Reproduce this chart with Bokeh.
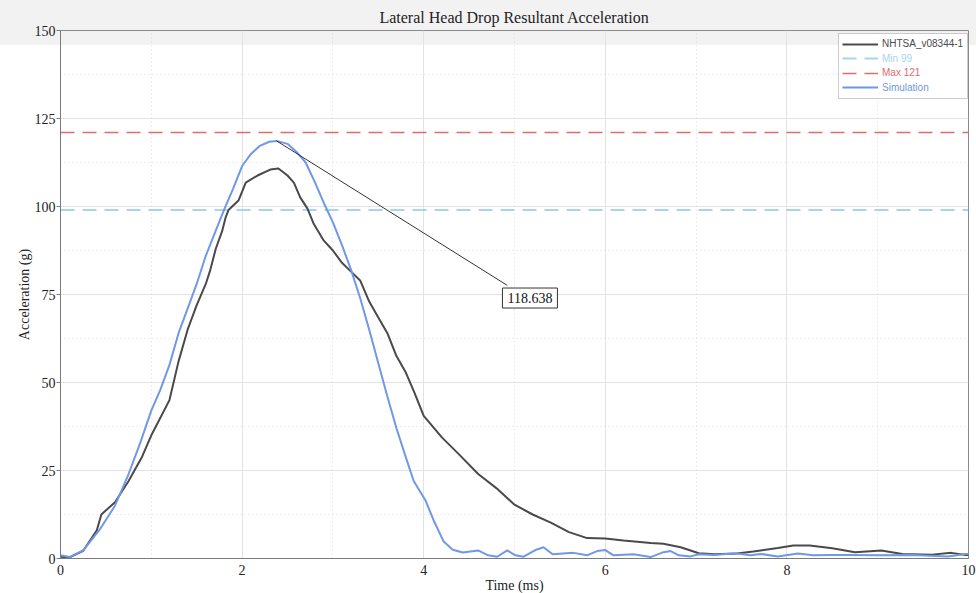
from bokeh.plotting import figure
from bokeh.models import (Legend, LegendItem, BoxAnnotation, Label, SingleIntervalTicker, Range1d)
from bokeh.embed import file_html
from bokeh.resources import INLINE

TITLE = "Lateral Head Drop Resultant Acceleration"
X_LABEL = "Time (ms)"
Y_LABEL = "Acceleration (g)"

# NHTSA test curve
t_nhtsa = [0, 0.1, 0.25, 0.4, 0.45, 0.6, 0.75, 0.9, 1.0, 1.1, 1.2, 1.3, 1.4, 1.5, 1.6, 1.65,
           1.71, 1.78, 1.82, 1.85, 1.96, 2.04, 2.17, 2.31, 2.4, 2.5, 2.57, 2.64, 2.72, 2.79,
           2.9, 3.0, 3.1, 3.2, 3.3, 3.4, 3.5, 3.6, 3.7, 3.8, 3.9, 4.0, 4.2, 4.4, 4.6, 4.8,
           5.0, 5.2, 5.4, 5.6, 5.8, 6.0, 6.2, 6.5, 6.64, 6.83, 7.03, 7.2, 7.45, 7.63, 7.9,
           8.07, 8.25, 8.5, 8.75, 9.04, 9.27, 9.6, 9.81, 9.97, 10.0]
a_nhtsa = [0.5, 0.3, 2.2, 8, 12.5, 16, 22, 29, 35, 40, 45, 56, 65, 72, 78, 82,
           88, 93, 97, 99, 101.7, 106.8, 108.8, 110.5, 110.8, 108.8, 106.8, 102.6, 99.4, 95,
           90.3, 87.5, 84, 81.5, 79, 73, 68.5, 64, 57.5, 53, 47, 40.5, 34.4, 29.3, 24, 20,
           15.3, 12.5, 10.2, 7.5, 5.8, 5.7, 5.1, 4.4, 4.2, 3.2, 1.5, 1.2, 1.4, 2.0, 3.0,
           3.7, 3.7, 2.9, 1.8, 2.3, 1.3, 1.1, 1.6, 1.0, 1.0]

# Simulation curve
t_sim = [0, 0.1, 0.25, 0.44, 0.6, 0.75, 0.88, 1.0, 1.1, 1.2, 1.3, 1.4, 1.5, 1.6, 1.7, 1.8,
         1.9, 2.0, 2.1, 2.2, 2.3, 2.38, 2.5, 2.6, 2.7, 2.8, 2.9, 3.0, 3.1, 3.2, 3.3, 3.4,
         3.5, 3.6, 3.7, 3.8, 3.89, 4.02, 4.11, 4.22, 4.32, 4.43, 4.6, 4.71, 4.81, 4.92,
         5.01, 5.1, 5.23, 5.32, 5.42, 5.65, 5.8, 5.91, 6.0, 6.09, 6.31, 6.5, 6.64, 6.72,
         6.81, 6.94, 7.03, 7.2, 7.43, 7.6, 7.71, 7.9, 8.12, 8.29, 8.5, 8.67, 9.0, 9.39,
         9.77, 9.97, 10.0]
a_sim = [0.9, 0.4, 2.3, 8.5, 15, 24, 33, 42, 48, 55, 64, 71, 78, 86, 92.5, 99,
         105, 111.5, 115, 117.3, 118.4, 118.638, 117.8, 115.5, 112.5, 107, 101, 95.5, 89, 82, 74, 65,
         55.5, 46, 37, 29, 22, 16.5, 10.8, 4.8, 2.5, 1.7, 2.3, 0.9, 0.5, 2.3,
         0.9, 0.5, 2.4, 3.2, 1.2, 1.6, 0.9, 2.1, 2.4, 0.9, 1.2, 0.4, 1.8, 2.1,
         0.9, 0.6, 1.2, 1.0, 1.5, 0.9, 1.3, 0.6, 1.4, 0.9, 1.0, 1.0, 0.9, 1.0,
         0.6, 1.3, 1.3]

MIN_VAL = 99
MAX_VAL = 121
X_RANGE = [0, 10]
PEAK_T, PEAK_V = 2.38, 118.638
CALLOUT_T, CALLOUT_V = 4.92, 77.6
LABEL_T, LABEL_V = 5.17, 74.0
PEAK_TEXT = "118.638"

SERIF = "Liberation Serif"
SANS = "Liberation Sans"

FRAME_H = 528
p = figure(frame_width=908, frame_height=FRAME_H, output_backend="svg", toolbar_location=None,
           x_range=Range1d(0, 10), y_range=Range1d(0, 150),
           min_border_left=60, min_border_right=8, min_border_top=30, min_border_bottom=35,
           title=TITLE)
p.border_fill_color = None
p.background_fill_color = None
p.styles = {"background": "linear-gradient(to bottom, #f2f2f2 0px, #f2f2f2 45px, #ffffff 45px, #ffffff 100%)"}
p.outline_line_color = "#8a8a8a"
p.outline_line_width = 1

p.title.align = "center"
p.title.text_font = SERIF
p.title.text_font_size = "16px"
p.title.text_font_style = "normal"
p.title.text_color = "#222222"
p.title.standoff = 10

p.xaxis.ticker = SingleIntervalTicker(interval=2, num_minor_ticks=2)
p.yaxis.ticker = SingleIntervalTicker(interval=25, num_minor_ticks=2)
for ax in (p.xaxis, p.yaxis):
    ax.axis_line_color = "#7a7a7a"
    ax.major_tick_line_color = "#7a7a7a"
    ax.minor_tick_line_color = None
    ax.major_label_text_font = SERIF
    ax.major_label_text_font_size = "14px"
    ax.major_label_text_color = "#222222"
    ax.axis_label_text_font = SERIF
    ax.axis_label_text_font_size = "14px"
    ax.axis_label_text_font_style = "normal"
    ax.axis_label_text_color = "#222222"
    ax.axis_label_standoff = 0
p.xaxis.major_tick_out = 0
p.xaxis.major_tick_in = 0
p.xaxis.major_label_standoff = 2
p.yaxis.major_tick_out = 4
p.yaxis.major_tick_in = 0
p.yaxis.major_label_standoff = 1
p.xaxis.axis_label = X_LABEL
p.yaxis.axis_label = Y_LABEL

for g in (p.xgrid, p.ygrid):
    g.grid_line_color = "#e2e2e2"
    g.grid_line_width = 1
    g.minor_grid_line_color = "#dadada"
    g.minor_grid_line_dash = "1 3"
p.xgrid.ticker = p.xaxis.ticker
p.ygrid.ticker = p.yaxis.ticker

C_NHTSA = "#4a4a4a"
C_MIN = "#a9d3ef"
C_MAX = "#e06b6b"
C_SIM = "#6f98e6"

r_min = p.line(X_RANGE, [MIN_VAL, MIN_VAL], line_color=C_MIN, line_width=2, line_dash="14 8")
r_max = p.line(X_RANGE, [MAX_VAL, MAX_VAL], line_color=C_MAX, line_width=1.5, line_dash="14 8")
r_nhtsa = p.line(t_nhtsa, a_nhtsa, line_color=C_NHTSA, line_width=2)
r_sim = p.line(t_sim, a_sim, line_color=C_SIM, line_width=2)

p.segment(x0=[PEAK_T], y0=[PEAK_V], x1=[CALLOUT_T], y1=[CALLOUT_V], line_color="#333333", line_width=1)
lab = Label(x=LABEL_T, y=LABEL_V, text=PEAK_TEXT, text_align="center", text_baseline="middle",
            text_font=SERIF, text_font_size="14px", text_color="#111111",
            border_line_color="#333333", border_line_width=1,
            background_fill_color="white", background_fill_alpha=1, padding=5)
p.add_layout(lab)

legbox = BoxAnnotation(left=838, right=967, top=33, bottom=98,
                       left_units="canvas", right_units="canvas", top_units="canvas", bottom_units="canvas",
                       fill_color="white", fill_alpha=1, line_color="#555555", line_width=1, level="annotation")
p.add_layout(legbox)

items = [("NHTSA_v08344-1", r_nhtsa, C_NHTSA), ("Min 99", r_min, C_MIN),
         ("Max 121", r_max, C_MAX), ("Simulation", r_sim, C_SIM)]
tops = [6.5, 21, 35.5, 50]
for (name, r, col), top in zip(items, tops):
    leg = Legend(items=[LegendItem(label=name, renderers=[r])], location=(782, FRAME_H - top - 14),
                 border_line_alpha=0, background_fill_alpha=0, padding=0, spacing=0, margin=0,
                 glyph_width=36, glyph_height=14, label_height=14, label_standoff=4,
                 label_text_color=col, label_text_font=SANS, label_text_font_size="10px")
    p.add_layout(leg)

open("out.html", "w").write(file_html(p, INLINE))
